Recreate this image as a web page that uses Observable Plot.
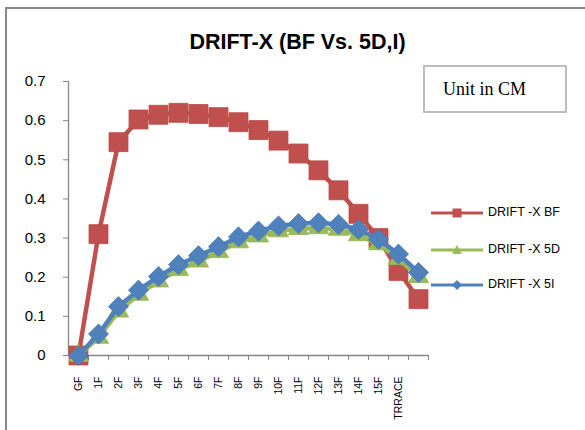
<!DOCTYPE html>
<html>
<head>
<meta charset="utf-8">
<script src="https://cdn.jsdelivr.net/npm/d3@7"></script>
<script src="https://cdn.jsdelivr.net/npm/@observablehq/plot@0.6"></script>
<style>
  html, body { margin: 0; padding: 0; background: #fff; }
  #wrap { position: relative; width: 585px; height: 430px; overflow: hidden; font-family: "Liberation Sans", Arial, sans-serif; }
  #wrap svg.plot { position: absolute; left: 0; top: 0; }
  .frame-top { position: absolute; left: 5px; top: 7px; width: 580px; height: 2px; background: #888; }
  .frame-left { position: absolute; left: 5px; top: 7px; width: 2px; height: 423px; background: #888; }
  .title { position: absolute; left: 0; width: 595px; top: 30px; text-align: center; font-weight: bold; font-size: 21.5px; color: #000; }
  .unit { position: absolute; left: 423px; top: 65px; width: 140px; height: 44px; border: 2px solid #bdbdbd; font-family: "Liberation Serif", "Times New Roman", serif; font-size: 18px; color: #000; }
  .unit span { position: absolute; left: 18px; top: 12px; }
  .legend { position: absolute; left: 430px; top: 0; }
  .legend .row { position: absolute; left: 0; width: 150px; height: 20px; }
  .legend svg { position: absolute; left: 0; top: 0; }
  .legend .lab { position: absolute; left: 58px; top: 2px; font-size: 12.5px; white-space: nowrap; color: #000; }
</style>
</head>
<body>
<div id="wrap">
  <div class="frame-top"></div>
  <div class="frame-left"></div>
  <div class="title">DRIFT-X (BF Vs. 5D,I)</div>
  <div class="unit"><span>Unit in CM</span></div>
  <div class="legend" id="legend"></div>
</div>
<script>
// Storey labels along the x axis (the top position carries no label)
const categories = ["GF", "1F", "2F", "3F", "4F", "5F", "6F", "7F", "8F", "9F", "10F", "11F", "12F", "13F", "14F", "15F", "TRRACE", ""];

// Storey drift in X (cm) for the three models
const driftBF = [0, 0.31, 0.545, 0.603, 0.615, 0.62, 0.617, 0.609, 0.596, 0.576, 0.549, 0.516, 0.473, 0.422, 0.362, 0.3, 0.216, 0.144];
const drift5D = [0, 0.046, 0.113, 0.156, 0.19, 0.219, 0.241, 0.265, 0.29, 0.305, 0.318, 0.324, 0.326, 0.322, 0.308, 0.285, 0.247, 0.201];
const drift5I = [0, 0.055, 0.125, 0.167, 0.202, 0.232, 0.255, 0.278, 0.303, 0.318, 0.331, 0.337, 0.339, 0.335, 0.322, 0.297, 0.259, 0.212];

const seriesNames = ["DRIFT -X BF", "DRIFT -X 5D", "DRIFT -X 5I"];
const seriesColors = ["#C0504D", "#9BBB59", "#4F81BD"];
const yTicks = [0, 0.1, 0.2, 0.3, 0.4, 0.5, 0.6, 0.7];

const idx = categories.map((_, i) => i);
const rows = (vals) => vals.map((v, i) => ({i, v}));
const boundaries = idx.map(i => i + 0.5);
const axisGrey = "#868686";

const chart = Plot.plot({
  width: 585,
  height: 430,
  marginLeft: 68,
  marginRight: 157,
  marginTop: 81,
  marginBottom: 75,
  style: {background: "transparent", fontFamily: "'Liberation Sans', Arial, sans-serif", color: "#000"},
  x: {type: "linear", domain: [-0.5, categories.length - 0.5]},
  y: {domain: [0, 0.7]},
  marks: [
    // axis lines
    Plot.ruleX([-0.5], {stroke: axisGrey, strokeWidth: 1.3}),
    Plot.ruleY([0], {stroke: axisGrey, strokeWidth: 1.3}),
    // y axis ticks and labels
    Plot.axisY({ticks: yTicks, tickSize: 5, tickPadding: 18, stroke: axisGrey, fill: "#000",
      fontSize: 15, tickFormat: d => d === 0 ? "0" : d.toFixed(1), label: null}),
    // category boundary ticks
    Plot.axisX({ticks: boundaries, tickSize: 5, stroke: axisGrey, tickFormat: () => "", label: null}),
    // category labels, rotated
    Plot.axisX({ticks: idx, tickSize: 0, tickPadding: 21, tickRotate: -90, fontSize: 10.5, fill: "#000",
      tickFormat: i => categories[i], label: null}),
    // BF
    Plot.line(rows(driftBF), {x: "i", y: "v", stroke: seriesColors[0], strokeWidth: 4.5, strokeLinejoin: "round"}),
    Plot.dot(rows(driftBF), {x: "i", y: "v", symbol: "square", r: 10.7, fill: seriesColors[0], stroke: "#b94a47", strokeWidth: 0.8}),
    // 5D
    Plot.line(rows(drift5D), {x: "i", y: "v", stroke: seriesColors[1], strokeWidth: 4.5, strokeLinejoin: "round"}),
    Plot.dot(rows(drift5D), {x: "i", y: "v", symbol: "triangle", r: 7.5, fill: seriesColors[1], stroke: "#93b355", strokeWidth: 0.8}),
    // 5I
    Plot.line(rows(drift5I), {x: "i", y: "v", stroke: seriesColors[2], strokeWidth: 4.5, strokeLinejoin: "round"}),
    Plot.dot(rows(drift5I), {x: "i", y: "v", symbol: "square", rotate: 45, r: 8, fill: seriesColors[2], stroke: "#4a7ab3", strokeWidth: 0.8})
  ]
});
chart.classList.add("plot");
document.getElementById("wrap").prepend(chart);

// Legend entries drawn beside the plot
const legend = document.getElementById("legend");
const legendTops = [203, 240, 275];
const markerPaths = [
  "M-4.5,-4.5H4.5V4.5H-4.5Z",
  "M0,-5L5,4H-5Z",
  "M0,-5L5,0L0,5L-5,0Z"
];
seriesNames.forEach((name, k) => {
  const row = document.createElement("div");
  row.className = "row";
  row.style.top = legendTops[k] + "px";
  row.innerHTML =
    `<svg width="56" height="20"><line x1="1" x2="53" y1="10" y2="10" stroke="${seriesColors[k]}" stroke-width="3"/>` +
    `<path transform="translate(27,10)" d="${markerPaths[k]}" fill="${seriesColors[k]}"/></svg>` +
    `<span class="lab">${name}</span>`;
  legend.appendChild(row);
});
</script>
</body>
</html>
